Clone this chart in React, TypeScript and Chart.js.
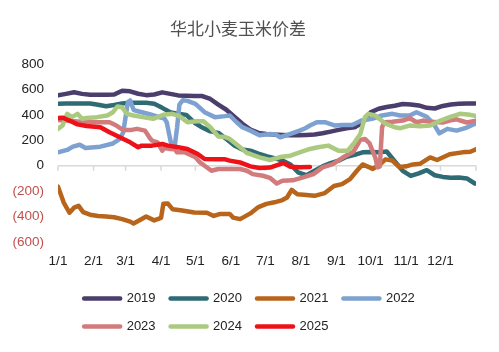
import React, { useEffect, useRef } from "react";
import { Chart, registerables } from "chart.js";

Chart.register(...registerables);

const TITLE = "华北小麦玉米价差";
const FONT = "'Liberation Sans', Arial, sans-serif";

const monthStarts = [0, 31, 59, 90, 120, 151, 181, 212, 243, 273, 304, 334];
const monthLabels = ["1/1", "2/1", "3/1", "4/1", "5/1", "6/1", "7/1", "8/1", "9/1", "10/1", "11/1", "12/1"];
const yearEnd = 365;

const seriesNames = ["2019", "2020", "2021", "2022", "2023", "2024", "2025"];
const seriesColors = ["#4B3D6C", "#2E6B75", "#B8651B", "#7DA1D0", "#D27B7C", "#ABCA80", "#EC1218"];

// [day of year, value]
const s2019: number[][] = [[0,553],[7,565],[14,578],[21,565],[28,558],[35,558],[42,558],[49,560],[56,590],[63,585],[70,566],[77,555],[84,560],[91,577],[98,565],[105,553],[112,550],[119,548],[126,548],[133,525],[140,480],[147,440],[154,385],[161,330],[168,285],[175,258],[182,250],[189,245],[196,242],[203,240],[210,240],[217,242],[224,245],[231,255],[238,268],[245,282],[252,295],[259,302],[266,340],[273,420],[280,448],[287,462],[294,472],[301,485],[308,482],[315,474],[322,455],[329,450],[336,470],[343,482],[350,487],[357,490],[364,490]];

const s2020: number[][] = [[0,487],[7,490],[14,490],[21,490],[28,490],[35,480],[42,468],[49,478],[56,490],[63,495],[70,495],[77,495],[84,488],[91,455],[98,420],[105,408],[112,400],[119,340],[126,300],[133,270],[140,258],[147,210],[154,160],[161,128],[168,118],[175,95],[182,75],[189,60],[196,40],[203,10],[210,-55],[217,-75],[224,-40],[231,-5],[238,20],[245,40],[252,70],[259,85],[266,105],[273,108],[280,105],[287,112],[294,35],[301,-40],[308,-80],[315,-60],[322,-35],[329,-75],[336,-88],[343,-95],[350,-92],[357,-100],[364,-140]];

const s2021: number[][] = [[0,-165],[5,-290],[10,-370],[14,-330],[18,-316],[22,-365],[28,-385],[35,-395],[42,-400],[49,-405],[56,-420],[63,-440],[66,-455],[70,-435],[77,-400],[84,-430],[90,-410],[92,-300],[96,-298],[100,-342],[107,-350],[119,-368],[130,-370],[136,-395],[141,-380],[150,-380],[153,-408],[159,-420],[168,-375],[175,-325],[182,-300],[189,-288],[196,-270],[200,-250],[204,-190],[209,-225],[217,-230],[224,-237],[233,-215],[241,-160],[248,-145],[255,-105],[261,-40],[266,10],[270,-5],[275,-25],[281,10],[286,50],[292,40],[298,-10],[304,-5],[310,10],[316,15],[325,65],[331,45],[342,90],[353,105],[360,110],[365,130]];

const s2022: number[][] = [[0,105],[8,124],[13,150],[19,165],[24,140],[37,150],[48,175],[54,211],[57,263],[59,382],[61,500],[63,513],[66,440],[69,430],[80,405],[89,380],[93,370],[95,340],[97,250],[99,165],[102,160],[104,300],[106,480],[109,515],[113,510],[120,487],[128,421],[137,382],[146,390],[150,395],[156,342],[161,303],[168,276],[176,240],[185,250],[190,245],[194,224],[203,250],[211,276],[216,295],[220,316],[226,342],[233,342],[242,316],[248,320],[257,320],[265,355],[274,369],[283,395],[292,408],[299,395],[307,395],[313,421],[322,385],[328,330],[333,255],[340,290],[348,276],[357,300],[365,334]];

const s2023: number[][] = [[0,360],[7,355],[14,350],[28,342],[45,342],[51,316],[57,280],[63,280],[69,290],[76,276],[80,220],[82,198],[87,184],[91,118],[93,140],[98,132],[102,130],[104,105],[111,105],[120,66],[124,26],[128,0],[134,-40],[140,-26],[148,-26],[159,-26],[165,-40],[170,-66],[179,-79],[185,-95],[191,-140],[196,-118],[205,-115],[214,-92],[223,-66],[231,-13],[240,13],[249,66],[258,110],[264,203],[268,211],[272,175],[277,66],[279,-13],[281,-5],[283,303],[285,342],[292,345],[301,355],[307,375],[313,342],[319,355],[325,345],[336,340],[342,355],[348,365],[357,340],[365,355]];

const s2024: number[][] = [[0,290],[4,316],[8,408],[12,382],[17,408],[21,369],[25,375],[34,382],[43,395],[48,421],[52,466],[56,460],[60,408],[66,395],[74,382],[83,369],[92,400],[100,408],[106,390],[113,342],[121,350],[127,350],[133,303],[140,230],[146,225],[150,211],[159,145],[165,100],[168,92],[176,66],[185,45],[194,68],[203,79],[211,105],[220,132],[227,145],[236,158],[245,118],[253,118],[259,184],[264,250],[268,382],[271,408],[277,395],[286,330],[294,303],[299,295],[307,316],[316,310],[325,316],[334,355],[342,382],[351,408],[360,400],[365,390]];

const s2025: number[][] = [[0,375],[4,378],[10,355],[17,325],[25,312],[37,303],[45,263],[54,224],[63,184],[70,145],[73,158],[82,158],[91,171],[96,158],[105,145],[113,132],[122,92],[128,53],[137,50],[146,50],[150,40],[159,26],[168,-5],[176,-18],[185,-15],[194,13],[197,22],[203,-8],[211,-13],[220,-10]];

const allSeries = [s2019, s2020, s2021, s2022, s2023, s2024, s2025];

const yMin = -600;
const yMax = 800;
const yStep = 200;

const zeroLinePlugin = {
  id: "zeroLine",
  beforeDatasetsDraw(chart: any) {
    const { ctx, chartArea, scales } = chart;
    const xs = scales.x;
    const ys = scales.y;
    const y0 = ys.getPixelForValue(0);
    ctx.save();
    ctx.strokeStyle = "#D9D9D9";
    ctx.lineWidth = 1.5;
    ctx.beginPath();
    ctx.moveTo(chartArea.left, y0);
    ctx.lineTo(chartArea.right, y0);
    [...monthStarts, yearEnd].forEach((d) => {
      const px = xs.getPixelForValue(d);
      ctx.moveTo(px, y0);
      ctx.lineTo(px, y0 + 5);
    });
    ctx.stroke();
    ctx.restore();
  },
};

const legendRowPlugin = {
  id: "legendRow",
  afterLayout(chart: any) {
    const lg = chart.legend;
    if (!lg || !lg.lineWidths) return;
    const pad = lg.options.labels.padding;
    const rowW = lg.lineWidths[0] - pad;
    const w = lg.right - lg.left;
    const left = (chart.width - rowW) / 2 - pad;
    lg.left = left;
    lg.right = left + w;
  },
};

export default function App() {
  const ref = useRef<HTMLCanvasElement | null>(null);

  useEffect(() => {
    if (!ref.current) return;
    const datasets = allSeries.map((s, i) => ({
      label: seriesNames[i],
      data: s.map(([x, y]) => ({ x, y })),
      borderColor: seriesColors[i],
      backgroundColor: seriesColors[i],
      borderWidth: 4.5,
      pointRadius: 0,
      pointHoverRadius: 0,
      tension: 0,
      borderCapStyle: "round",
      borderJoinStyle: "round",
      fill: false,
      order: seriesNames.length - 1 - i,
    }));

    const chart = new Chart(ref.current, {
      type: "line",
      data: { datasets } as any,
      plugins: [zeroLinePlugin, legendRowPlugin],
      options: {
        responsive: true,
        maintainAspectRatio: false,
        animation: false,
        layout: { padding: { top: 0, left: 0, right: 23, bottom: 9 } },
        plugins: {
          title: {
            display: true,
            text: TITLE,
            color: "#505050",
            font: { family: "'Noto Sans CJK SC', sans-serif", size: 17, weight: "normal" },
            padding: { top: 18, bottom: 25.6 },
          },
          legend: {
            display: true,
            position: "bottom",
            align: "start",
            fullSize: false,
            labels: {
              usePointStyle: true,
              pointStyleWidth: 36,
              padding: 15,
              color: "#222",
              font: { family: FONT, size: 13 },
              generateLabels: (c: any) =>
                c.data.datasets.map((ds: any, i: number) => ({
                  text: ds.label,
                  datasetIndex: i,
                  strokeStyle: ds.borderColor,
                  fillStyle: ds.borderColor,
                  lineWidth: 4.5,
                  lineCap: "round",
                  pointStyle: "line",
                  hidden: false,
                  fontColor: "#222",
                })),
            },
          },
          tooltip: { enabled: false },
        },
        scales: {
          x: {
            type: "linear",
            min: 0,
            max: yearEnd,
            grid: { display: false, drawTicks: false },
            border: { display: false },
            afterBuildTicks: (s: any) => {
              s.ticks = monthStarts.map((v) => ({ value: v }));
            },
            afterFit: (s: any) => {
              s.height = 35;
            },
            ticks: {
              autoSkip: false,
              maxRotation: 0,
              minRotation: 0,
              padding: 11,
              color: "#222",
              font: { family: FONT, size: 13.5 },
              callback: (_v: any, i: number) => monthLabels[i],
            },
          },
          y: {
            type: "linear",
            min: yMin,
            max: yMax,
            grid: { display: false, drawTicks: false },
            border: { display: false },
            afterFit: (s: any) => {
              s.width = 58;
            },
            ticks: {
              stepSize: yStep,
              padding: 14,
              font: { family: FONT, size: 13.5 },
              color: (ctx: any) => (ctx.tick && ctx.tick.value < 0 ? "#C0504D" : "#222"),
              callback: (v: any) => (v < 0 ? `(${-v})` : `${v}`),
            },
          },
        },
      } as any,
    });
    return () => chart.destroy();
  }, []);

  return (
    <div style={{ position: "fixed", left: 0, top: 0, width: 499, height: 352, background: "#fff" }}>
      <canvas ref={ref} />
    </div>
  );
}
